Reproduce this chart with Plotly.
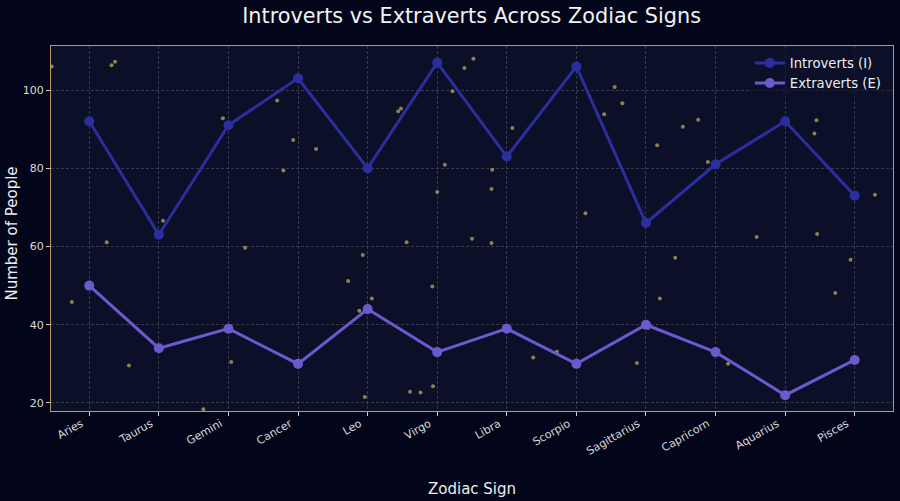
import plotly.graph_objects as go

signs = ["Aries", "Taurus", "Gemini", "Cancer", "Leo", "Virgo", "Libra",
         "Scorpio", "Sagittarius", "Capricorn", "Aquarius", "Pisces"]
introverts = [92, 63, 91, 103, 80, 107, 83, 106, 66, 81, 92, 73]
extraverts = [50, 34, 39, 30, 44, 33, 39, 30, 40, 33, 22, 31]

# decorative background "stars" (category-index position, value)
star_x = [-0.54, 0.32, 0.37, 1.06, 1.92, 2.70, 2.93, 2.79, 3.26, 4.44, 4.48, 5.22,
          5.39, 5.52, 6.08, 5.11, 5.79, 5.00, 5.78, 7.13, 7.55, 7.40, 7.66, 8.53,
          8.75, 8.16, 8.89, 10.45, 10.42, 11.29, 0.25, -0.25, 0.57, 2.24, 2.04, 1.64,
          4.56, 3.93, 3.72, 4.06, 3.88, 4.93, 5.50, 5.78, 3.96, 4.61, 4.76, 4.94,
          6.38, 6.72, 9.59, 10.46, 8.42, 10.94, 8.20, 10.72, 7.87, 9.18, 8.03]
star_y = [106.0, 106.3, 107.2, 66.6, 92.8, 97.3, 87.2, 79.4, 84.9, 94.6, 95.3, 99.7,
          105.6, 108.0, 90.3, 80.9, 79.6, 73.9, 74.7, 68.5, 100.8, 93.8, 96.6, 90.6,
          92.4, 85.9, 81.6, 92.3, 88.9, 73.2, 61.1, 45.8, 29.6, 59.7, 30.5, 18.4,
          61.1, 57.8, 51.2, 46.7, 43.6, 49.8, 62.0, 60.9, 21.5, 22.9, 22.7, 24.3,
          31.6, 33.1, 62.4, 63.2, 57.1, 56.6, 46.7, 48.1, 30.2, 30.0, 39.2]

idx = list(range(len(signs)))

fig = go.Figure()
fig.add_trace(go.Scatter(
    x=star_x, y=star_y, mode="markers", showlegend=False, hoverinfo="skip",
    marker=dict(size=4, color="rgba(190,165,95,0.75)", line=dict(width=0))))
fig.add_trace(go.Scatter(
    x=idx, y=introverts, mode="lines+markers", name="Introverts (I)",
    line=dict(color="#2b2f9e", width=3), marker=dict(size=10, color="#2b2f9e")))
fig.add_trace(go.Scatter(
    x=idx, y=extraverts, mode="lines+markers", name="Extraverts (E)",
    line=dict(color="#6a5acd", width=3), marker=dict(size=10, color="#6a5acd")))

axis_common = dict(
    automargin=False,
    showline=True, mirror=True, linecolor="#b59a5a", linewidth=1.2,
    showgrid=True, gridcolor="rgba(110,110,120,0.45)", gridwidth=0.7,
    griddash="3px,2px", zeroline=False,
    ticks="outside", ticklen=4, tickcolor="#cccccc", tickwidth=1,
    tickfont=dict(color="#d8d8d8", size=11, family="DejaVu Sans"),
)

fig.update_xaxes(
    **axis_common, tickmode="array", tickvals=idx, ticktext=signs,
    tickangle=-30, range=[-0.55, 11.55],
    ticklabelshift=-8, ticklabelstandoff=-3)
fig.update_yaxes(
    **axis_common, tickvals=[20, 40, 60, 80, 100], range=[17.95, 111.25])

fig.add_annotation(text="Zodiac Sign", xref="paper", yref="paper",
                   x=0.5, y=-0.213, xanchor="center", yanchor="middle",
                   showarrow=False, font=dict(size=15, color="#eeeeee"))
fig.add_annotation(text="Number of People", xref="paper", yref="paper",
                   x=-0.046, y=0.487, xanchor="center", yanchor="middle",
                   textangle=-90, showarrow=False,
                   font=dict(size=15, color="#eeeeee"))

fig.update_layout(
    width=900, height=501,
    paper_bgcolor="#03061a", plot_bgcolor="#0b0f28",
    font=dict(family="DejaVu Sans", color="#eeeeee"),
    title=dict(text="Introverts vs Extraverts Across Zodiac Signs",
               x=0.524, xanchor="center", y=0.968, yanchor="middle",
               font=dict(size=20.8, color="#f2f2f2")),
    margin=dict(l=51, r=7, t=46, b=90),
    legend=dict(x=0.83, y=0.995, xanchor="left", yanchor="top",
                bgcolor="rgba(11,15,40,0.6)", borderwidth=0,
                tracegroupgap=0,
                font=dict(size=13.2, color="#eeeeee")),
)

fig.write_html("out.html", config={"displayModeBar": False},
               post_script="document.body.style.margin='0';document.body.style.padding='0';document.body.style.background='#03061a';")
